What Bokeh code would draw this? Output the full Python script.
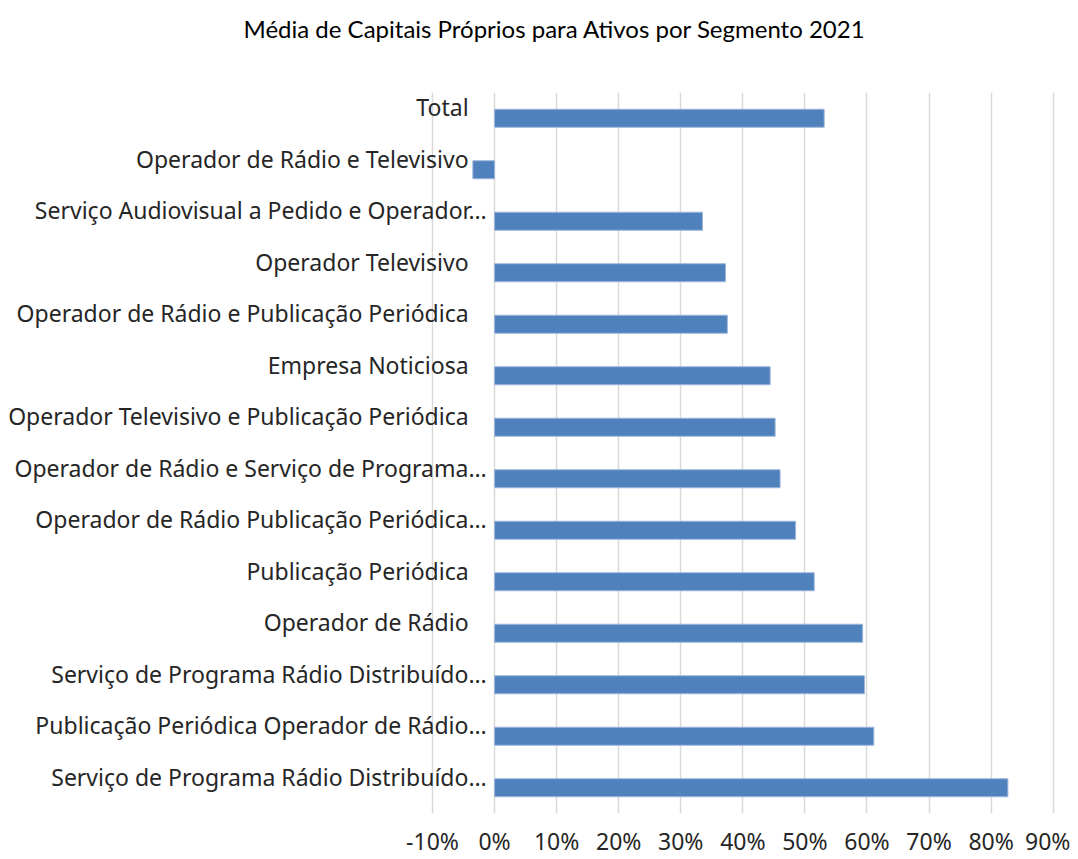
from bokeh.plotting import figure
from bokeh.models import Range1d, FixedTicker, ColumnDataSource, Title
from bokeh.core.properties import value
from bokeh.embed import file_html
from bokeh.resources import INLINE

# ---- data ----
title_text = "Média de Capitais Próprios para Ativos por Segmento 2021"
segments = [
    "Total",
    "Operador de Rádio e Televisivo",
    "Serviço Audiovisual a Pedido e Operador…",
    "Operador Televisivo",
    "Operador de Rádio e Publicação Periódica",
    "Empresa Noticiosa",
    "Operador Televisivo e Publicação Periódica",
    "Operador de Rádio e Serviço de Programa…",
    "Operador de Rádio Publicação Periódica…",
    "Publicação Periódica",
    "Operador de Rádio",
    "Serviço de Programa Rádio Distribuído…",
    "Publicação Periódica Operador de Rádio…",
    "Serviço de Programa Rádio Distribuído…",
]
ratio_pct = [53.1, -3.5, 33.5, 37.2, 37.5, 44.4, 45.2, 46.0, 48.5, 51.5, 59.3, 59.6, 61.1, 82.7]
tick_values = [-10, 0, 10, 20, 30, 40, 50, 60, 70, 80, 90]
tick_labels = ["-10%", "0%", "10%", "20%", "30%", "40%", "50%", "60%", "70%", "80%", "90%"]

# ---- layout ----
W, H = 1070, 859
frame_left, frame_right = 0, 1062          # figure px
frame_top, frame_bottom = 92, 813
# pixel anchors of first/last tick (figure px)
px_first, px_last = 432.0, 1052.7
scale = (px_last - px_first) / (tick_values[-1] - tick_values[0])
x_start = tick_values[0] - (px_first - frame_left) / scale
x_end = tick_values[-1] + (frame_right - px_last) / scale

n = len(segments)
idx = list(range(n))
label_offsets = [-8 if s.endswith("…") else -26 for s in segments]

src = ColumnDataSource(dict(y=idx, v=ratio_pct, name=segments, xo=label_offsets))

p = figure(width=W, height=H, output_backend="svg", toolbar_location=None,
           x_range=Range1d(x_start, x_end), y_range=Range1d(n - 0.5, -0.5),
           min_border_left=frame_left, min_border_right=W - frame_right,
           min_border_top=frame_top, min_border_bottom=H - frame_bottom)
p.outline_line_color = None
p.background_fill_color = "white"
p.border_fill_color = "white"

# spacer (closest to the frame) then the real title above it
p.add_layout(Title(text=" ", text_font_size="10px", standoff=35), "above")
p.add_layout(Title(text=title_text, align="left", offset=243, vertical_align="top",
                   standoff=0, text_font="Lato", text_font_size="24px",
                   text_font_style="normal", text_color="black"), "above")

p.yaxis.visible = False
p.ygrid.visible = False
p.xgrid.ticker = FixedTicker(ticks=tick_values)
p.xgrid.grid_line_color = "#d9d9d9"
p.xgrid.grid_line_width = 1.5

ax = p.xaxis[0]
ax.ticker = FixedTicker(ticks=tick_values)
ax.major_label_overrides = {t: l for t, l in zip(tick_values, tick_labels)}
ax.axis_line_color = None
ax.major_tick_line_color = None
ax.minor_tick_line_color = None
ax.major_tick_out = 0
ax.major_tick_in = 0
ax.major_label_standoff = 11
ax.major_label_text_font = "Noto Sans"
ax.major_label_text_font_size = "23px"
ax.major_label_text_color = "#262626"

p.hbar(y="y", left=0, right="v", height=0.35, source=src,
       fill_color="#4f81bd", line_color="#9db6da", line_width=1)

p.text(x=0, y="y", text="name", source=src, x_offset="xo", y_offset=-11,
       text_align="right", text_baseline="middle",
       text_font=value("Noto Sans"), text_font_size="23px", text_color="#262626")

open("out.html", "w").write(file_html(p, INLINE))
